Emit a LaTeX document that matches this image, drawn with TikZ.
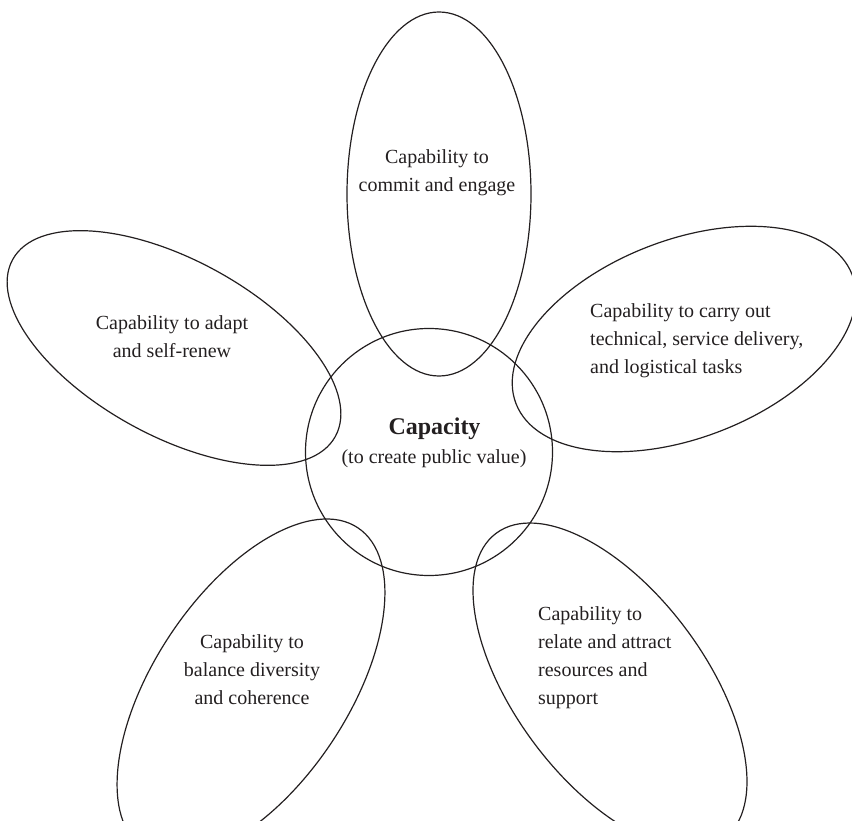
\documentclass[tikz,border=0pt]{standalone}
\usepackage{fontspec}
\setmainfont{Liberation Serif}
\definecolor{ink}{HTML}{231F20}
\begin{document}
\begin{tikzpicture}[x=1pt,y=1pt,
  petal/.style={draw=ink, line width=1.2pt},
  lbl/.style={text=ink, inner sep=0pt, font=\fontsize{20}{28}\selectfont},
]
\useasboundingbox (0,0) rectangle (852,-821);
\begin{scope}
\clip (0,0) rectangle (852,-821);
% centre circle
\draw[petal] (429,-452) circle [radius=123.5pt];
% top petal
\draw[petal] (439,-194) ellipse [x radius=92pt, y radius=182pt];
% left petal
\draw[petal, rotate around={-28.7:(174,-348)}] (174,-348) ellipse [x radius=184pt, y radius=88pt];
% right petal
\draw[petal, rotate around={21:(684,-339)}] (684,-339) ellipse [x radius=180pt, y radius=99pt];
% bottom-left petal
\draw[petal, rotate around={56.4:(251,-688.5)}] (251,-688.5) ellipse [x radius=193pt, y radius=97pt];
% bottom-right petal
\draw[petal, rotate around={126.7:(610,-686)}] (610,-686) ellipse [x radius=190.5pt, y radius=95pt];
\end{scope}

\node[lbl, anchor=base] (cap) at (434.5,-434.3) {\fontsize{24}{28}\selectfont\bfseries Capacity};
\node[lbl, anchor=base] (capsub) at (434,-463) {(to create public value)};

\node[lbl, anchor=north, align=center] (top) at (437,-149.3) {Capability to\\commit and engage};
\node[lbl, anchor=north, align=center] (left) at (172,-315.3) {Capability to adapt\\and self-renew};
\node[lbl, anchor=north west, align=left] (right) at (590,-303.3) {Capability to carry out\\technical, service delivery,\\and logistical tasks};
\node[lbl, anchor=north, align=center] (bl) at (252,-634.3) {Capability to\\balance diversity\\and coherence};
\node[lbl, anchor=north west, align=left] (br) at (538,-606.3) {Capability to\\relate and attract\\resources and\\support};
\end{tikzpicture}
\end{document}
